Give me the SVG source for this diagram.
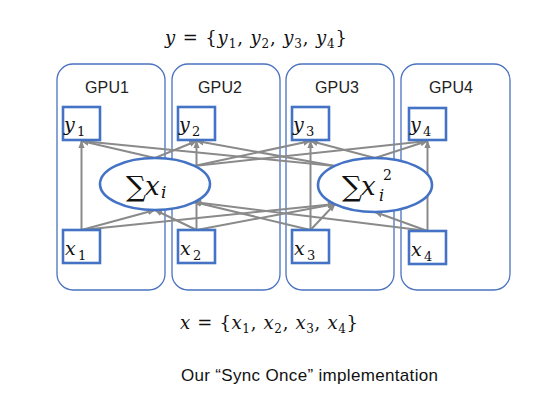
<svg xmlns="http://www.w3.org/2000/svg" width="551" height="405" viewBox="0 0 551 405">
<style>
.gpu{fill:#fff;stroke:#4a72c0;stroke-width:1.3}
.lbl{font-family:"Liberation Sans",Arial,sans-serif;font-size:16px;fill:#222;text-anchor:middle}
.box{fill:#fff;stroke:#4472c4;stroke-width:2.6}
.ell{fill:#fff;stroke:#4472c4;stroke-width:2.6}
.m{font-family:"DejaVu Serif","Liberation Serif",serif;fill:#111}
.it{font-style:italic}
.edge{stroke:#8a8a8a;stroke-width:2;fill:none;marker-end:url(#ah)}
.cap{font-family:"Liberation Sans",Arial,sans-serif;font-size:17px;fill:#111}
</style>
<defs>
<marker id="ah" viewBox="0 0 10 10" refX="9" refY="5" markerWidth="8" markerHeight="8" markerUnits="userSpaceOnUse" orient="auto">
<path d="M0,1 L10,5 L0,9 z" fill="#8a8a8a"/>
</marker>
</defs>
<rect width="551" height="405" fill="#fff"/>

<text class="m" x="165" y="44" font-size="18" textLength="182" lengthAdjust="spacing"><tspan class="it">y</tspan> = {<tspan class="it">y</tspan><tspan font-size="12" dy="4">1</tspan><tspan dy="-4">, </tspan><tspan class="it">y</tspan><tspan font-size="12" dy="4">2</tspan><tspan dy="-4">, </tspan><tspan class="it">y</tspan><tspan font-size="12" dy="4">3</tspan><tspan dy="-4">, </tspan><tspan class="it">y</tspan><tspan font-size="12" dy="4">4</tspan><tspan dy="-4">}</tspan></text>

<g id="gpu1"><rect class="gpu" x="57" y="64" width="108" height="226" rx="16"/><text class="lbl" x="107" y="93" textLength="44">GPU1</text></g>
<g id="gpu2"><rect class="gpu" x="172" y="64" width="108" height="226" rx="16"/><text class="lbl" x="220" y="93" textLength="44">GPU2</text></g>
<g id="gpu3"><rect class="gpu" x="286" y="64" width="108" height="226" rx="16"/><text class="lbl" x="337" y="93" textLength="44">GPU3</text></g>
<g id="gpu4"><rect class="gpu" x="401" y="64" width="109" height="226" rx="16"/><text class="lbl" x="451" y="93" textLength="44">GPU4</text></g>

<g id="connectors">
<path class="edge" d="M81.5,230 V141"/>
<path class="edge" d="M196.5,230 V141"/>
<path class="edge" d="M310.5,230 V141"/>
<path class="edge" d="M427.5,231 V141"/>
<path class="edge" d="M81.5,230 L155,210"/>
<path class="edge" d="M196.5,230 L155,210"/>
<path class="edge" d="M310.5,230 L194,202"/>
<path class="edge" d="M427.5,231 L194,202"/>
<path class="edge" d="M81.5,230 L335,204"/>
<path class="edge" d="M196.5,230 L335,204"/>
<path class="edge" d="M310.5,230 L335,204"/>
<path class="edge" d="M427.5,231 L375,212"/>
<path class="edge" d="M155,158 L81.5,141"/>
<path class="edge" d="M155,158 L196.5,141"/>
<path class="edge" d="M194,166 L310.5,141"/>
<path class="edge" d="M194,166 L427.5,141"/>
<path class="edge" d="M375,158 L310.5,141"/>
<path class="edge" d="M375,158 L427.5,141"/>
<path class="edge" d="M335,166 L81.5,141"/>
<path class="edge" d="M335,166 L196.5,141"/>
</g>

<g id="y1"><rect class="box" x="63" y="107" width="37" height="33"/><text class="m it" x="64" y="131" font-size="19">y</text><text class="m" x="77" y="136" font-size="13">1</text></g>
<g id="y2"><rect class="box" x="178" y="107" width="37" height="33"/><text class="m it" x="179" y="131" font-size="19">y</text><text class="m" x="192" y="136" font-size="13">2</text></g>
<g id="y3"><rect class="box" x="292" y="107" width="37" height="33"/><text class="m it" x="293" y="131" font-size="19">y</text><text class="m" x="306" y="136" font-size="13">3</text></g>
<g id="y4"><rect class="box" x="409" y="108" width="37" height="32"/><text class="m it" x="410" y="131" font-size="19">y</text><text class="m" x="423" y="136" font-size="13">4</text></g>

<g id="x1"><rect class="box" x="63" y="230" width="37" height="33"/><text class="m it" x="65" y="255" font-size="19">x</text><text class="m" x="78" y="260" font-size="13">1</text></g>
<g id="x2"><rect class="box" x="178" y="230" width="37" height="33"/><text class="m it" x="180" y="255" font-size="19">x</text><text class="m" x="193" y="260" font-size="13">2</text></g>
<g id="x3"><rect class="box" x="292" y="230" width="37" height="33"/><text class="m it" x="294" y="255" font-size="19">x</text><text class="m" x="307" y="260" font-size="13">3</text></g>
<g id="x4"><rect class="box" x="409" y="231" width="37" height="33"/><text class="m it" x="411" y="256" font-size="19">x</text><text class="m" x="424" y="261" font-size="13">4</text></g>

<g id="sum"><ellipse class="ell" cx="155" cy="184" rx="55" ry="26"/><text class="m" x="126" y="196" font-size="28">∑</text><text class="m it" x="145" y="195" font-size="26">x</text><text class="m it" x="161" y="198" font-size="17">i</text></g>
<g id="sumsq"><ellipse class="ell" cx="375" cy="185" rx="57" ry="27"/><text class="m" x="342" y="196" font-size="28">∑</text><text class="m it" x="361" y="195" font-size="26">x</text><text class="m" x="383" y="180" font-size="14">2</text><text class="m it" x="379" y="201" font-size="16">i</text></g>

<text class="m" x="180" y="329" font-size="18" textLength="178" lengthAdjust="spacing"><tspan class="it">x</tspan> = {<tspan class="it">x</tspan><tspan font-size="12" dy="4">1</tspan><tspan dy="-4">, </tspan><tspan class="it">x</tspan><tspan font-size="12" dy="4">2</tspan><tspan dy="-4">, </tspan><tspan class="it">x</tspan><tspan font-size="12" dy="4">3</tspan><tspan dy="-4">, </tspan><tspan class="it">x</tspan><tspan font-size="12" dy="4">4</tspan><tspan dy="-4">}</tspan></text>

<text class="cap" x="181" y="381" textLength="257">Our “Sync Once” implementation</text>
</svg>
